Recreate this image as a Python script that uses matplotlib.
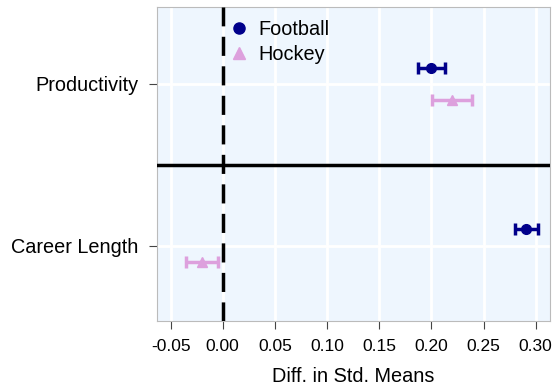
import matplotlib
matplotlib.use("Agg")
import matplotlib.pyplot as plt
from matplotlib.lines import Line2D
import numpy as np

plt.rcParams['font.family'] = ['Liberation Sans', 'DejaVu Sans']

categories = ["Career Length", "Productivity"]
football_mean = [0.291, 0.200]
football_err = [0.011, 0.013]
hockey_mean = [-0.020, 0.220]
hockey_err = [0.015, 0.019]
xticks = [-0.05, 0.00, 0.05, 0.10, 0.15, 0.20, 0.25, 0.30]

navy = '#00008B'
plum = '#DDA0DD'

ypos = np.arange(1, len(categories) + 1)

fig = plt.figure(figsize=(5.53, 3.92), dpi=100)
ax = fig.add_axes([156.5 / 553, 1 - 321 / 392, (550 - 156.5) / 553, (321 - 7) / 392])
ax.set_facecolor('#EEF6FE')

ax.errorbar(football_mean, ypos + 0.1, xerr=football_err, fmt='o', color=navy,
            ms=7, elinewidth=2.5, capsize=4, capthick=2.5, zorder=4)
ax.errorbar(hockey_mean, ypos - 0.1, xerr=hockey_err, fmt='^', color=plum,
            ms=7, elinewidth=2.5, capsize=4, capthick=2.5, zorder=4)

ax.axvline(0, color='black', lw=2.5, ls=(0, (5.5, 3)), zorder=3)
ax.axhline(1.5, color='black', lw=2.5, zorder=3)

ax.set_xlim(-0.0635, 0.3137)
ax.set_ylim(0.534, 2.476)
ax.set_xticks(xticks)
ax.set_xticklabels([f"{t:.2f}" for t in xticks], fontsize=12.5)
ax.set_yticks(ypos)
ax.set_yticklabels(categories, fontsize=14.3)
ax.grid(True, color='white', lw=2)
ax.set_axisbelow(True)
for s in ax.spines.values():
    s.set_color('#BBBBBB')
ax.tick_params(axis='both', length=6, color='#444444', pad=7)
ax.set_xlabel("Diff. in Std. Means", fontsize=14.3, labelpad=9)

handles = [Line2D([], [], marker='o', ls='', color=navy, ms=8),
           Line2D([], [], marker='^', ls='', color=plum, ms=8)]
ax.legend(handles, ['Football', 'Hockey'], loc='center left',
          bbox_to_anchor=(0.165, 0.89), frameon=False, fontsize=14.3,
          handlelength=1.0, handletextpad=0.45, borderaxespad=0, labelspacing=0.3)

fig.savefig("out.png", dpi=100)
